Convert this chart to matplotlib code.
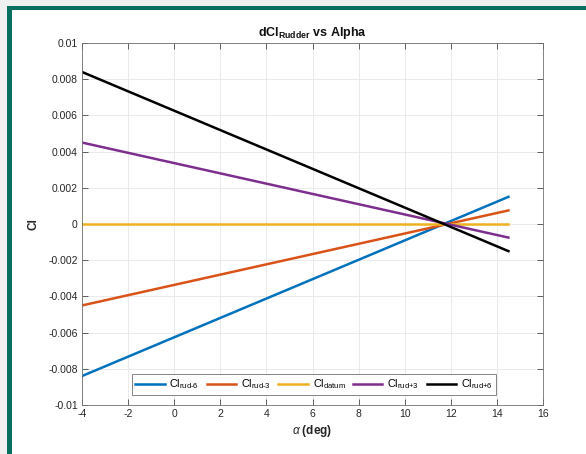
import matplotlib
matplotlib.use('Agg')
from matplotlib import pyplot as plt
from matplotlib import patches as patches

# data
alpha = [-4, 14.5]
cl_rud_m6 = [-0.0084, 0.0015]
cl_rud_m3 = [-0.0045, 0.00075]
cl_datum = [0.0, 0.0]
cl_rud_p3 = [0.0045, -0.00075]
cl_rud_p6 = [0.0084, -0.0015]

series = [cl_rud_m6, cl_rud_m3, cl_datum, cl_rud_p3, cl_rud_p6]
labels = [r'Cl$_{\mathrm{rud\text{-}6}}$', r'Cl$_{\mathrm{rud\text{-}3}}$', r'Cl$_{\mathrm{datum}}$',
          r'Cl$_{\mathrm{rud\text{+}3}}$', r'Cl$_{\mathrm{rud\text{+}6}}$']
colors = ['#0072BD', '#D95319', '#EDB120', '#7E2F8E', '#000000']

xticks = list(range(-4, 17, 2))
yticks = [-0.01, -0.008, -0.006, -0.004, -0.002, 0, 0.002, 0.004, 0.006, 0.008, 0.01]
yticklabels = ['-0.01', '-0.008', '-0.006', '-0.004', '-0.002', '0', '0.002', '0.004', '0.006', '0.008', '0.01']

plt.rcParams['font.family'] = ['Liberation Sans', 'DejaVu Sans']
plt.rcParams['axes.unicode_minus'] = False
plt.rcParams['mathtext.fontset'] = 'custom'
plt.rcParams['mathtext.rm'] = 'Liberation Sans'
plt.rcParams['mathtext.it'] = 'Liberation Sans:italic'
plt.rcParams['mathtext.bf'] = 'Liberation Sans:bold'

W, H = 586, 454
fig = plt.figure(figsize=(W / 100, H / 100), dpi=100, facecolor='#f0f0f0')

# white panel with green frame on left and top
fig.add_artist(patches.Rectangle((12 / W, 0), 1, (H - 10) / H, transform=fig.transFigure,
                                 facecolor='white', edgecolor='none', zorder=0))
fig.add_artist(patches.Rectangle((7 / W, 0), 5 / W, (H - 6) / H, transform=fig.transFigure,
                                 facecolor='#086e5e', edgecolor='none', zorder=0))
fig.add_artist(patches.Rectangle((7 / W, (H - 10) / H), 1, 4 / H, transform=fig.transFigure,
                                 facecolor='#086e5e', edgecolor='none', zorder=0))

ax = fig.add_axes([82 / W, (H - 405) / H, (543 - 82) / W, (405 - 43) / H])
ax.set_facecolor('white')

for y, lab, c in zip(series, labels, colors):
    ax.plot(alpha, y, color=c, linewidth=1.8, label=lab)

ax.set_xlim(-4, 16)
ax.set_ylim(-0.01, 0.01)
ax.set_xticks(xticks)
ax.set_yticks(yticks)
ax.set_yticklabels(yticklabels)
ax.tick_params(direction='in', length=4, width=0.5, top=True, right=True,
               labelsize=7.5, colors='#262626', pad=3)
ax.grid(True, color='#e6e6e6', linewidth=0.6)
ax.set_axisbelow(True)
for s in ax.spines.values():
    s.set_linewidth(0.6)
    s.set_color('#707070')

ax.set_title(r'dCl$_{\mathbf{Rudder}}$ vs Alpha', fontsize=9, fontweight='bold', pad=5, color='#111111')
ax.set_xlabel(r'$\alpha$ (deg)', fontsize=8.5, fontweight='bold', color='#262626', labelpad=3)
ax.set_ylabel('Cl', fontsize=8.5, fontweight='bold', color='#262626', labelpad=6)

leg = ax.legend(loc='lower center', bbox_to_anchor=(0.503, 0.018), ncol=5, fontsize=7.8,
                frameon=True, fancybox=False, framealpha=1, edgecolor='#707070',
                handlelength=2.7, columnspacing=0.7, handletextpad=0.45, borderpad=0.35,
                borderaxespad=0.3)
leg.get_frame().set_linewidth(0.6)

fig.savefig('out.png', dpi=100, facecolor=fig.get_facecolor())
